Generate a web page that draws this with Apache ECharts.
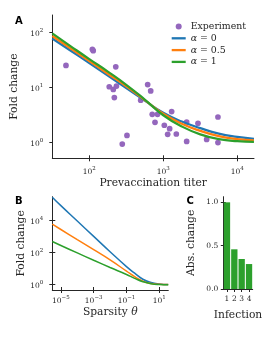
<!DOCTYPE html>
<html><head><meta charset="utf-8">
<script src="https://cdn.jsdelivr.net/npm/echarts@6/dist/echarts.min.js"></script>
<style>html,body{margin:0;padding:0;background:#fff}#c{width:270px;height:338px}</style>
</head><body><div id="c"></div>
<script>
// Panel A: experiment scatter
const titerX = [48.4,110,113,228,186,211,233,218,279,323,615,676,495,709,836,773,1033,1219,1146,1297,1500,2070,2070,2944,3855,5480,5480];
const foldY  = [25.2,49.5,46.7,23.8,10.3,9.2,10.6,6.56,0.93,1.34,11.3,8.67,5.86,3.25,3.25,2.32,2.05,1.78,1.4,3.64,1.42,2.35,1.04,2.22,1.13,2.9,0.99];
// Panel A: model curves
const curveX   = [31.6,56.2,100,178,316,562,1000,1778,3162,5623,10000,16800];
const curveA0  = [78,46.6,27.8,16.4,9.7,5.75,3.46,2.4,1.82,1.445,1.26,1.16];
const curveA05 = [86.7,51.3,30.3,17.8,10.5,5.89,3.32,2.19,1.62,1.30,1.15,1.09];
const curveA1  = [96.4,56.2,32.9,19.5,11.2,6.03,3.12,1.95,1.40,1.15,1.05,1.02];
// Panel B
const thetaB   = [3e-6,1e-5,1e-4,1e-3,1e-2,1e-1,0.316,1,3.16,10,35];
const sparsA0  = [295000,87100,9550,1047,115,13.5,5.25,2.19,1.38,1.12,1.035];
const sparsA05 = [6030,2820,661,155,35.5,7.08,3.16,1.66,1.2,1.06,1.016];
const sparsA1  = [501,282,97.7,33.9,12.0,4.37,2.51,1.55,1.15,1.035,1.01];
// Panel C
const infections = ['1','2','3','4'];
const absChange  = [1.0,0.458,0.346,0.288];
// tick labels
const ticksTiter = [100,1000,10000];
const ticksFoldA = [1,10,100];
const ticksTheta = [1e-5,1e-3,1e-1,10];
const ticksFoldB = [1,100,10000];
const ticksAbs   = [0,0.5,1.0];
const legendNames = ['Experiment','α = 0','α = 0.5','α = 1'];

const SERIF = 'DejaVu Serif';
const TXT = '#262626';
const AX = '#262626';
const C_BLUE='#1f77b4', C_OR='#ff7f0e', C_GR='#2ca02c', C_PU='#9467bd';

const supRich = {
  b:{fontFamily:SERIF,fontSize:7.5,color:TXT,verticalAlign:'bottom',padding:[2.5,0,0,0]},
  s:{fontFamily:SERIF,fontSize:5.5,color:TXT,verticalAlign:'top'}
};
function pow10(v){
  const e = Math.round(Math.log10(v));
  return '{b|10}{s|' + (e<0 ? '\u2212'+(-e) : e) + '}';
}
const zip = (a,b)=>a.map((v,i)=>[v,b[i]]);
const axLine = {show:true,lineStyle:{color:AX,width:1}};
const nameStyle = {fontFamily:SERIF,fontSize:10.7,color:TXT};
const LINE_ICON = 'path://M0,0H14V2.3H0Z';

function logX(grid,min,max,ticks,margin,extra){
  return Object.assign({gridIndex:grid,type:'log',logBase:10,min:min,max:max,position:'bottom',
    axisLine:axLine,splitLine:{show:false},minorTick:{show:false},
    axisTick:{show:true,length:3,lineStyle:{color:AX,width:1},customValues:ticks},
    axisLabel:{show:true,customValues:ticks,formatter:pow10,rich:supRich,margin:margin}},extra||{});
}
function dupX(grid,type,min,max,ticks){
  return {gridIndex:grid,type:type,min:min,max:max,position:'bottom',offset:0,
    axisLine:{show:false},splitLine:{show:false},axisLabel:{show:false},
    axisTick:{show:true,inside:true,length:3,lineStyle:{color:AX,width:1},customValues:ticks}};
}
function dupY(grid,type,min,max,ticks,len){
  return {gridIndex:grid,type:type,min:min,max:max,position:'left',offset:0,
    axisLine:{show:false},splitLine:{show:false},axisLabel:{show:false},
    axisTick:{show:true,inside:true,length:len,lineStyle:{color:AX,width:1},customValues:ticks}};
}

const option = {
  animation:false,
  backgroundColor:'#fff',
  title:[
    {text:'A',left:15,top:16.5,padding:0,textStyle:{fontFamily:'DejaVu Sans',fontWeight:'bold',fontSize:10,color:'#000'}},
    {text:'B',left:15,top:196,padding:0,textStyle:{fontFamily:'DejaVu Sans',fontWeight:'bold',fontSize:10,color:'#000'}},
    {text:'C',left:186.5,top:196,padding:0,textStyle:{fontFamily:'DejaVu Sans',fontWeight:'bold',fontSize:10,color:'#000'}}
  ],
  legend:{
    orient:'vertical',left:171.7,top:22,padding:0,itemGap:2.8,itemWidth:14,itemHeight:6,
    textStyle:{fontFamily:SERIF,fontSize:9.4,color:TXT,rich:{i:{fontFamily:SERIF,fontStyle:'italic',fontSize:9.4,color:TXT}}},
    formatter:function(n){ return n.indexOf('α')===0 ? '{i|α}'+n.slice(1) : n; },
    data:[{name:legendNames[0],icon:'circle'},{name:legendNames[1],icon:LINE_ICON},
          {name:legendNames[2],icon:LINE_ICON},{name:legendNames[3],icon:LINE_ICON}]
  },
  grid:[
    {left:52.3,top:15,width:201.7,height:143.3,outerBoundsMode:'none'},
    {left:52.3,top:196.7,width:116,height:93.3,outerBoundsMode:'none'},
    {left:223.3,top:196.7,width:29.4,height:92.3,outerBoundsMode:'none'}
  ],
  xAxis:[
    logX(0,31.62,16830,ticksTiter,7,{name:'Prevaccination titer',nameLocation:'middle',nameGap:19,nameTextStyle:Object.assign({verticalAlign:'top'},nameStyle)}),
    dupX(0,'log',31.62,16830,ticksTiter),
    logX(1,3e-6,35.5,ticksTheta,5,{name:'{n|Sparsity }{i|θ}',nameLocation:'middle',nameGap:10,
      nameTextStyle:Object.assign({verticalAlign:'top',rich:{n:nameStyle,i:Object.assign({fontStyle:'italic'},nameStyle)}},nameStyle)}),
    dupX(1,'log',3e-6,35.5,ticksTheta),
    {gridIndex:2,type:'category',data:infections,position:'bottom',axisLine:axLine,
      axisTick:{show:true,length:3,alignWithLabel:true,lineStyle:{color:AX}},
      axisLabel:{fontFamily:SERIF,fontSize:7.5,color:TXT,margin:6},
      name:'Infection',nameLocation:'middle',nameGap:21,nameTextStyle:Object.assign({verticalAlign:'top'},nameStyle)}
  ],
  yAxis:[
    {gridIndex:0,type:'log',logBase:10,min:0.513,max:208.9,position:'left',axisLine:axLine,splitLine:{show:false},minorTick:{show:false},
      axisTick:{show:true,length:3,lineStyle:{color:AX},customValues:ticksFoldA},
      axisLabel:{customValues:ticksFoldA,formatter:pow10,rich:supRich,margin:9},
      name:'Fold change',nameLocation:'middle',nameGap:26,nameTextStyle:nameStyle},
    {gridIndex:1,type:'log',logBase:10,min:0.468,max:316228,position:'left',axisLine:axLine,splitLine:{show:false},minorTick:{show:false},
      axisTick:{show:true,length:3,lineStyle:{color:AX},customValues:ticksFoldB},
      axisLabel:{customValues:ticksFoldB,formatter:pow10,rich:supRich,margin:9},
      name:'Fold change',nameLocation:'middle',nameGap:26,nameTextStyle:nameStyle},
    dupY(1,'log',0.468,316228,ticksFoldB,3),
    {gridIndex:2,type:'value',min:0,max:1.065,position:'left',axisLine:axLine,splitLine:{show:false},
      axisTick:{show:true,length:2.5,lineStyle:{color:AX},customValues:ticksAbs},
      axisLabel:{customValues:ticksAbs,formatter:v=>v.toFixed(1),fontFamily:SERIF,fontSize:7.5,color:TXT,margin:5},
      name:'Abs. change',nameLocation:'middle',nameGap:27,nameTextStyle:nameStyle},
    dupY(2,'value',0,1.065,ticksAbs,2.5)
  ],
  series:[
    {name:legendNames[0],type:'scatter',xAxisIndex:0,yAxisIndex:0,data:zip(titerX,foldY),symbolSize:5.7,
      itemStyle:{color:C_PU,opacity:1},z:1},
    {name:legendNames[1],type:'line',xAxisIndex:0,yAxisIndex:0,data:zip(curveX,curveA0),smooth:true,symbol:'none',
      lineStyle:{color:C_BLUE,width:2.2},itemStyle:{color:C_BLUE},z:2},
    {name:legendNames[2],type:'line',xAxisIndex:0,yAxisIndex:0,data:zip(curveX,curveA05),smooth:true,symbol:'none',
      lineStyle:{color:C_OR,width:2.2},itemStyle:{color:C_OR},z:3},
    {name:legendNames[3],type:'line',xAxisIndex:0,yAxisIndex:0,data:zip(curveX,curveA1),smooth:true,symbol:'none',
      lineStyle:{color:C_GR,width:2.2},itemStyle:{color:C_GR},z:4},
    {name:'bB0',type:'line',xAxisIndex:2,yAxisIndex:1,data:zip(thetaB,sparsA0),smooth:true,symbol:'none',
      lineStyle:{color:C_BLUE,width:1.5},z:2},
    {name:'bB05',type:'line',xAxisIndex:2,yAxisIndex:1,data:zip(thetaB,sparsA05),smooth:true,symbol:'none',
      lineStyle:{color:C_OR,width:1.5},z:3},
    {name:'bB1',type:'line',xAxisIndex:2,yAxisIndex:1,data:zip(thetaB,sparsA1),smooth:true,symbol:'none',
      lineStyle:{color:C_GR,width:1.5},z:4},
    {name:'cBars',type:'bar',xAxisIndex:4,yAxisIndex:3,data:absChange,barWidth:'86%',
      itemStyle:{color:C_GR,borderColor:'#fff',borderWidth:0}}
  ]
};
const chart = echarts.init(document.getElementById('c'),null,{renderer:'canvas',width:270,height:338});
chart.setOption(option);
</script></body></html>
